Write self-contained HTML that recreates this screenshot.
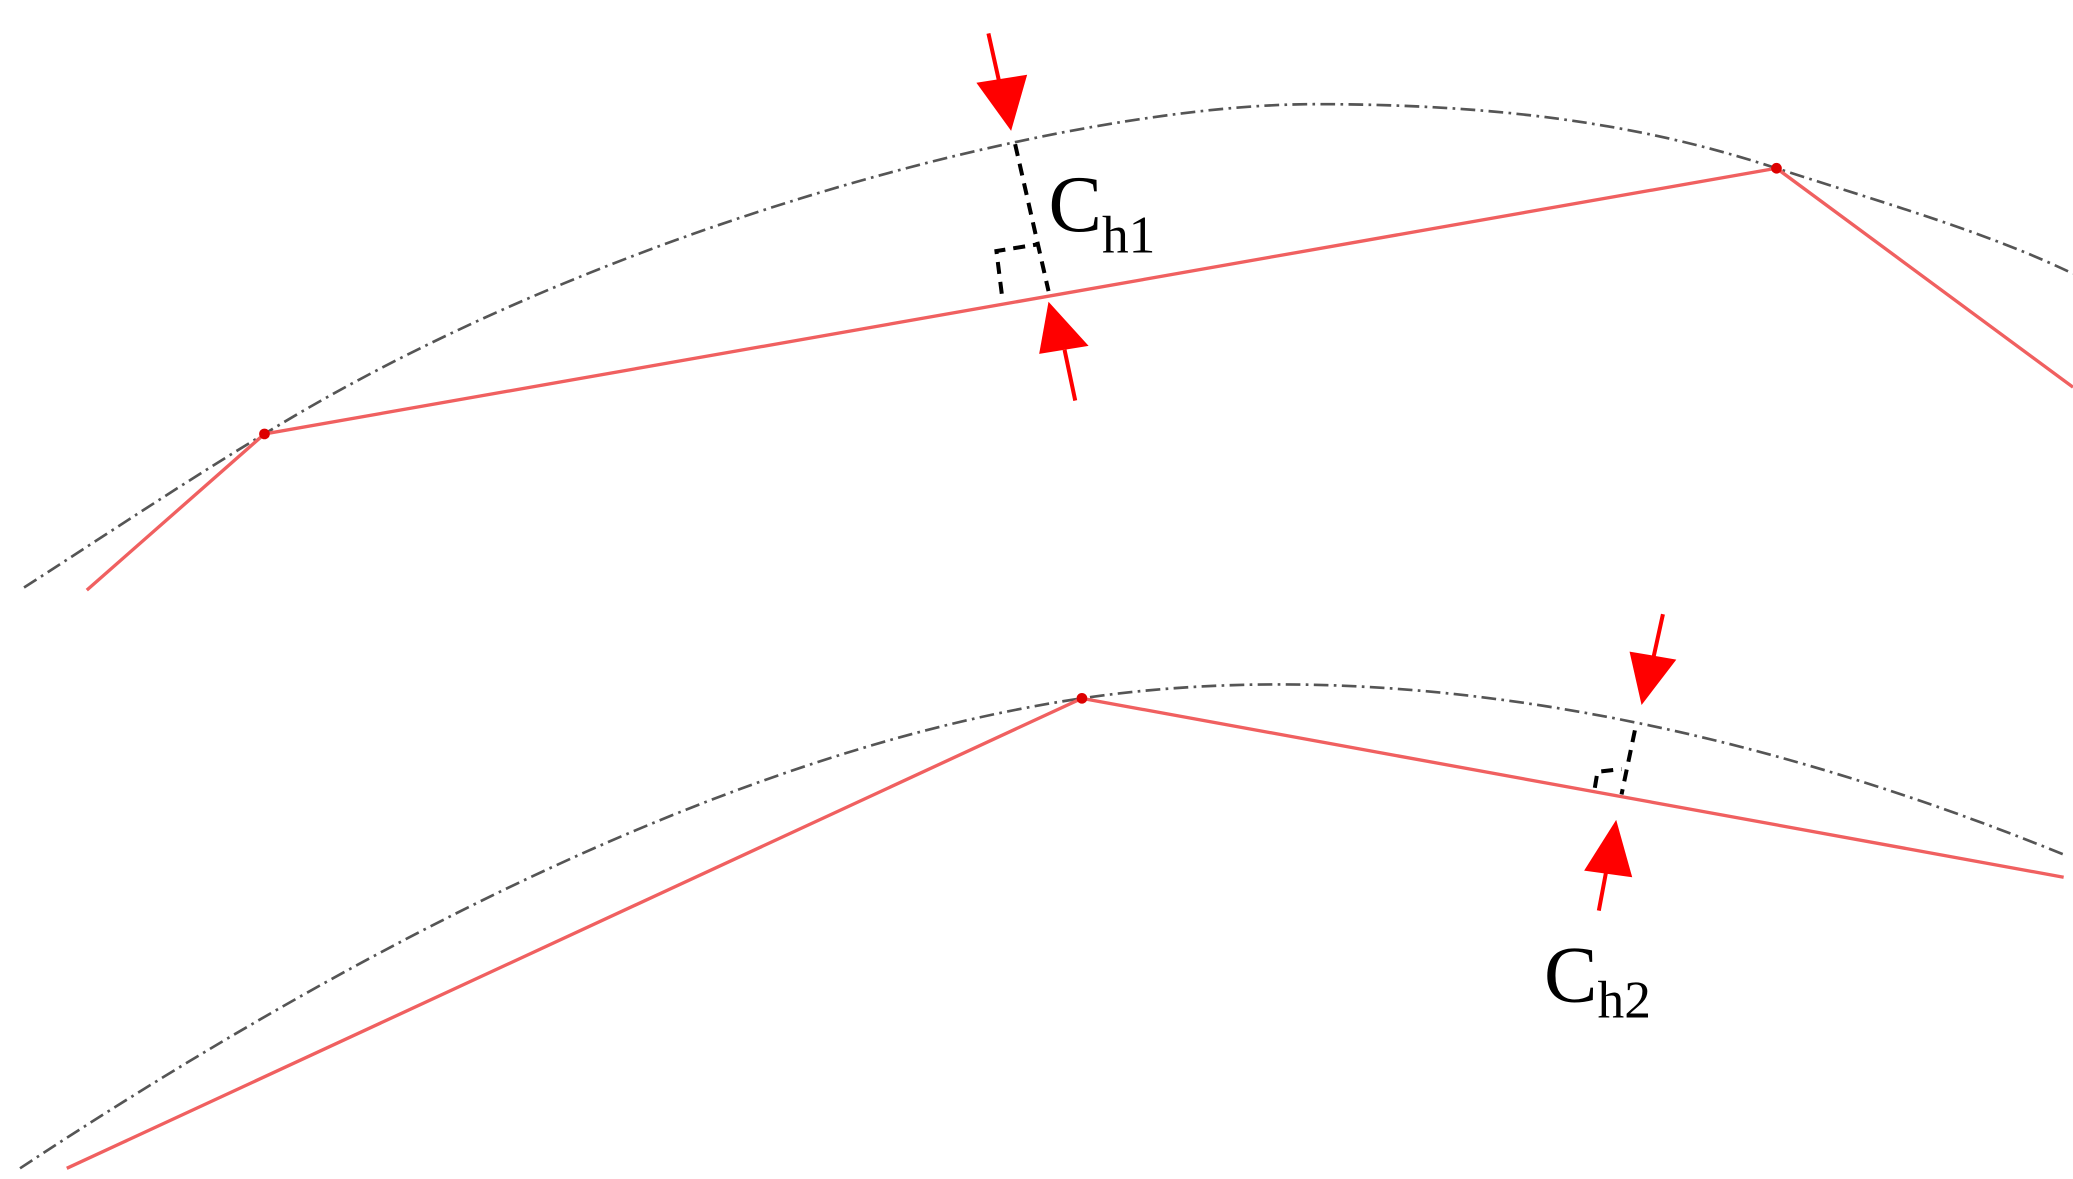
<!DOCTYPE html>
<html><head><style>html,body{margin:0;padding:0;background:#fff;width:2073px;height:1179px;overflow:hidden}</style></head>
<body>
<svg width="2073" height="1179" viewBox="0 0 1552 883" preserveAspectRatio="none" xmlns="http://www.w3.org/2000/svg">
<g fill="none" stroke="#555" stroke-width="2" stroke-dasharray="11 4 2 4">
<path d="M18,440 C 80,400 140,360 198,325 C 450,170 800,78 985,78 C 1150,78 1250,100 1330,126 C 1420,155 1490,175 1552,205"/>
<path d="M15,875 C 280,700 560,560 810,523 C 1000,495 1250,520 1545,640"/>
</g>
<g fill="none" stroke="#f06060" stroke-width="2.5">
<polyline points="65,442 198,325 1330,126 1552,290"/>
<polyline points="50,875 810,523 1545,657"/>
</g>
<g fill="#d00"><circle cx="198" cy="325" r="4"/><circle cx="1330" cy="126" r="4"/><circle cx="810" cy="523" r="4"/></g>
<g fill="none" stroke="#000" stroke-width="3" stroke-dasharray="9 6">
<line x1="760" y1="108" x2="785" y2="218"/>
<polyline points="750,220 746,188 777,183"/>
<line x1="1224" y1="547" x2="1214" y2="595"/>
<polyline points="1194,590 1196,578 1214,576"/>
</g>
<g stroke="#f00" stroke-width="3" fill="#f00">
<line x1="740" y1="25" x2="750" y2="70"/>
<polygon points="731,62 769,56 757,98" stroke="none"/>
<line x1="805" y1="300" x2="797" y2="262"/>
<polygon points="778,265 815,259 785,226" stroke="none"/>
<line x1="1245" y1="460" x2="1238" y2="492"/>
<polygon points="1220,488 1255,494 1229,528" stroke="none"/>
<line x1="1197" y1="682" x2="1203" y2="650"/>
<polygon points="1186,652 1222,657 1210,614" stroke="none"/>
</g>
<g font-family="'Liberation Serif', serif" fill="#000">
<text x="785" y="173" font-size="60">C<tspan font-size="40" dy="16">h1</tspan></text>
<text x="1156" y="750" font-size="60">C<tspan font-size="40" dy="12">h2</tspan></text>
</g>
</svg>
</body></html>
